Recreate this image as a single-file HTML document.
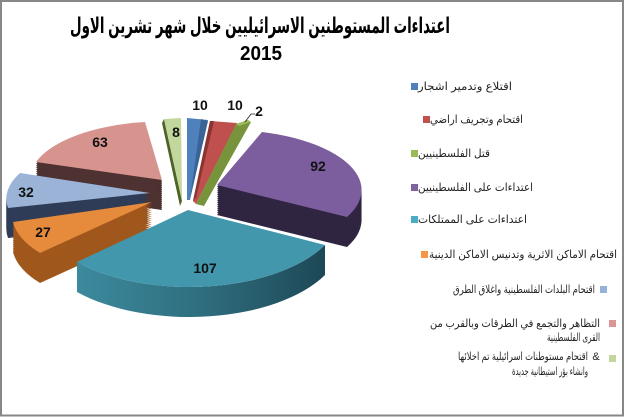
<!DOCTYPE html>
<html>
<head>
<meta charset="utf-8">
<style>
  html,body{margin:0;padding:0;background:#fff;}
  body{width:625px;height:417px;overflow:hidden;}
  svg{display:block;}
  .lbl{font-family:"Liberation Sans",Arial,sans-serif;font-weight:bold;font-size:14px;fill:#111;text-anchor:middle;}
  .lg{font-family:"Liberation Sans","DejaVu Sans",sans-serif;font-size:11px;fill:#222;text-anchor:middle;}
</style>
</head>
<body>
<svg width="625" height="417" viewBox="0 0 625 417" xmlns="http://www.w3.org/2000/svg">
  <defs>
    <path id="pk" d="M162,180 L36,162 A133,58 0 0 1 145,122 Z"/>
    <path id="pu" d="M217,185 L262,132 A135,60 0 0 1 347,217 Z"/>
    <path id="lb" d="M150,193 L20,173 A142,60 0 0 0 8,208 Z"/>
    <path id="or" d="M152,202 L13,222 A145,65 0 0 0 40,253 Z"/>
    <linearGradient id="tealSide" gradientUnits="userSpaceOnUse" x1="77" y1="0" x2="325" y2="0">
      <stop offset="0" stop-color="#3C8A9D"/>
      <stop offset="0.5" stop-color="#2F6E7F"/>
      <stop offset="1" stop-color="#1D4856"/>
    </linearGradient>
  </defs>

  <rect x="0" y="0" width="625" height="417" fill="#fff"/>
  <rect x="1" y="1" width="622" height="414.5" fill="none" stroke="#878787" stroke-width="2"/>

  <!-- Title -->
  <text x="260" y="33" font-family="Liberation Sans, DejaVu Sans, sans-serif" font-size="22" font-weight="bold" text-anchor="middle" textLength="380" lengthAdjust="spacingAndGlyphs" direction="rtl" fill="#000">اعتداءات المستوطنين الاسرائيليين خلال شهر تشرين الاول</text>
  <text x="261" y="60" font-family="Liberation Sans, sans-serif" font-size="20" font-weight="bold" text-anchor="middle" textLength="42" lengthAdjust="spacingAndGlyphs" fill="#000">2015</text>

  <!-- Light green (8) -->
  <polygon points="164,119 182,201 180,206 162,123" fill="#4F6228"/>
  <polygon points="164,119 181,118 182,201" fill="#C3D69B"/>

  <!-- Blue (10) -->
  <polygon points="187,118 208,120 190,200 187,200" fill="#4F81BD"/>
  <polygon points="201,119 208,121 190,199" fill="#3A6396"/>

  <!-- Red (10) -->
  <polygon points="210,121 237,123 196,204 193,201" fill="#C0504D"/>
  <polygon points="210,121 214,121 196,198 193,201" fill="#8B3432"/>

  <!-- Green (2) -->
  <polygon points="236,124 248,120 251,122 204,206 196,204" fill="#77933C"/>
  <polygon points="236,124 248,120 251,122 239,126" fill="#9BBB59"/>
  <polyline points="245,122 251,114 255,114" fill="none" stroke="#222" stroke-width="0.8"/>

  <!-- Pink (63) -->
  <g fill="#4E3131">
    <use href="#pk" y="2"/><use href="#pk" y="4"/><use href="#pk" y="6"/><use href="#pk" y="8"/><use href="#pk" y="10"/>
    <use href="#pk" y="12"/><use href="#pk" y="14"/><use href="#pk" y="16"/><use href="#pk" y="18"/><use href="#pk" y="20"/>
    <use href="#pk" y="22"/><use href="#pk" y="24"/><use href="#pk" y="26"/><use href="#pk" y="28"/><use href="#pk" y="30"/>
  </g>
  <use href="#pk" fill="#D7948F"/>

  <!-- Purple (92) -->
  <g fill="#2F2541">
    <use href="#pu" y="2"/><use href="#pu" y="4"/><use href="#pu" y="6"/><use href="#pu" y="8"/><use href="#pu" y="10"/>
    <use href="#pu" y="12"/><use href="#pu" y="14"/><use href="#pu" y="16"/><use href="#pu" y="18"/><use href="#pu" y="20"/>
    <use href="#pu" y="22"/><use href="#pu" y="24"/><use href="#pu" y="26"/><use href="#pu" y="28"/><use href="#pu" y="30"/>
  </g>
  <use href="#pu" fill="#7C5E9F"/>

  <!-- Light blue (32) -->
  <g fill="#2E3C57">
    <use href="#lb" y="2"/><use href="#lb" y="4"/><use href="#lb" y="6"/><use href="#lb" y="8"/><use href="#lb" y="10"/>
    <use href="#lb" y="12"/><use href="#lb" y="14"/><use href="#lb" y="16"/><use href="#lb" y="18"/><use href="#lb" y="20"/>
    <use href="#lb" y="22"/><use href="#lb" y="24"/><use href="#lb" y="26"/><use href="#lb" y="28"/><use href="#lb" y="30"/>
  </g>
  <use href="#lb" fill="#9AB3D7"/>

  <!-- Orange (27) -->
  <g fill="#A0571C">
    <use href="#or" y="2"/><use href="#or" y="4"/><use href="#or" y="6"/><use href="#or" y="8"/><use href="#or" y="10"/>
    <use href="#or" y="12"/><use href="#or" y="14"/><use href="#or" y="16"/><use href="#or" y="18"/><use href="#or" y="20"/>
    <use href="#or" y="22"/><use href="#or" y="24"/><use href="#or" y="26"/><use href="#or" y="28"/><use href="#or" y="30"/>
  </g>
  <use href="#or" fill="#E68A3B"/>

  <!-- Teal (107) -->
  <path d="M325,245 A153,78 0 0 1 77,262 L77,292 A153,78 0 0 0 325,275 Z" fill="url(#tealSide)"/>
  <path d="M188,210 L325,245 A153,78 0 0 1 77,262 Z" fill="#4297AD"/>

  <!-- Data labels -->
  <text class="lbl" x="200" y="110">10</text>
  <text class="lbl" x="235" y="110">10</text>
  <text class="lbl" x="259" y="116">2</text>
  <text class="lbl" x="176" y="137">8</text>
  <text class="lbl" x="318" y="171">92</text>
  <text class="lbl" x="205" y="273">107</text>
  <text class="lbl" x="100" y="147">63</text>
  <text class="lbl" x="26" y="197">32</text>
  <text class="lbl" x="43" y="237">27</text>

  <!-- Legend -->
  <rect x="411" y="83" width="7" height="7" fill="#4F81BD"/>
  <text class="lg" x="465" y="90" textLength="94" lengthAdjust="spacingAndGlyphs" direction="rtl">اقتلاع وتدمير اشجار</text>

  <rect x="423" y="116" width="7" height="7" fill="#C0504D"/>
  <text class="lg" x="476.5" y="123" textLength="93" lengthAdjust="spacingAndGlyphs" direction="rtl">اقتحام وتجريف اراضي</text>

  <rect x="411" y="150" width="7" height="7" fill="#9BBB59"/>
  <text class="lg" x="454" y="157" textLength="72" lengthAdjust="spacingAndGlyphs" direction="rtl">قتل الفلسطينيين</text>

  <rect x="411" y="184" width="7" height="7" fill="#8064A2"/>
  <text class="lg" x="475.5" y="191" textLength="115" lengthAdjust="spacingAndGlyphs" direction="rtl">اعتداءات على الفلسطينيين</text>

  <rect x="411" y="216" width="7" height="7" fill="#4BACC6"/>
  <text class="lg" x="472.5" y="223" textLength="109" lengthAdjust="spacingAndGlyphs" direction="rtl">اعتداءات على الممتلكات</text>

  <rect x="421" y="251" width="7" height="7" fill="#F79646"/>
  <text class="lg" x="523" y="258" textLength="188" lengthAdjust="spacingAndGlyphs" direction="rtl">اقتحام الاماكن الاثرية وتدنيس الاماكن الدينية</text>

  <rect x="600" y="286" width="7" height="7" fill="#95B3D7"/>
  <text class="lg" x="524" y="293" textLength="142" lengthAdjust="spacingAndGlyphs" direction="rtl">اقتحام البلدات الفلسطينية واغلاق الطرق</text>

  <rect x="609" y="320" width="7" height="7" fill="#D99694"/>
  <text class="lg" x="515" y="327" textLength="170" lengthAdjust="spacingAndGlyphs" direction="rtl">التظاهر والتجمع في الطرقات وبالقرب من</text>
  <text class="lg" x="573.5" y="341" textLength="53" lengthAdjust="spacingAndGlyphs" direction="rtl">القرى الفلسطينية</text>

  <rect x="609" y="355" width="7" height="7" fill="#C3D69B"/>
  <text class="lg" x="523" y="360" textLength="130" lengthAdjust="spacingAndGlyphs" direction="rtl">اقتحام مستوطنات اسرائيلية تم اخلائها</text>
  <text class="lg" x="596" y="360">&amp;</text>
  <text class="lg" x="550" y="375" textLength="76" lengthAdjust="spacingAndGlyphs" direction="rtl">وانشاء بؤر استيطانية جديدة</text>
</svg>
</body>
</html>
